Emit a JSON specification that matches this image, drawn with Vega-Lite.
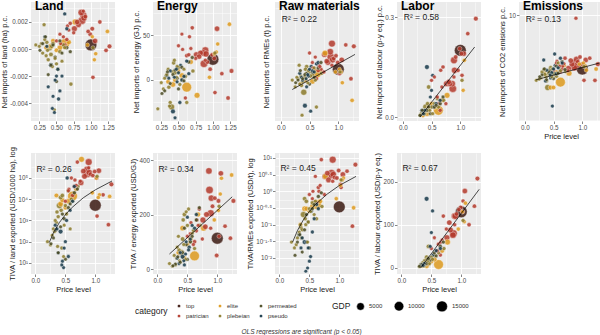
{
"$schema":"https://vega.github.io/schema/vega-lite/v6.json",
"padding":{"left":0,"top":0,"right":0,"bottom":0},
"background":"white",
"title":{"text":"OLS regressions are significant (p < 0.05)","orient":"bottom","anchor":"middle","frame":"bounds","fontSize":6.5,"fontStyle":"italic","fontWeight":"normal","color":"#333333","offset":10,"dx":0},
"config":{
 "font":"Liberation Sans",
 "view":{"fill":"#ebebeb","stroke":null},
 "axis":{"domain":false,"tickColor":"#333333","tickSize":2.5,"tickWidth":0.6,"labelFontSize":6.3,"labelColor":"#4d4d4d","labelPadding":1,"labelOverlap":false,"labelBound":false,"titleFontSize":7.5,"titleFontWeight":"normal","titleColor":"#1a1a1a","titlePadding":1.5,"gridColor":"#ffffff","gridWidth":0.8},
 "title":{"anchor":"start","frame":"group","fontSize":12,"fontWeight":"bold","color":"#000000","offset":-11,"dx":4},
 "legend":{"labelFontSize":6,"titleFontSize":8.5,"titleFontWeight":"normal","titleColor":"#1a1a1a","labelColor":"#333333","symbolStrokeWidth":0,"symbolOpacity":1},
 "circle":{"opacity":0.85,"stroke":"#ffffff","strokeWidth":0.4},
 "line":{"color":"#000000","strokeWidth":0.7},
 "text":{"fontSize":8.5,"align":"left","baseline":"middle","color":"#1a1a1a","dx":1}
},
"datasets":{
"d":[
{"c":"top","p":1.0,"g":19500,"L":0.0003,"E":23,"R":5,"B":0.2,"M":1.0,"TL":5200,"TE":113,"TR":0.34,"TB":130},
{"c":"patrician","p":1.27,"g":700,"L":0.0002,"E":10,"R":22,"B":0.295,"M":1.8,"TL":50000,"TE":250,"TR":6.3,"TB":207},
{"c":"patrician","p":1.22,"g":400,"L":-0.0001,"E":-20,"R":-2,"B":null,"M":-0.9,"TL":630,"TE":113,"TR":0.09,"TB":143},
{"c":"patrician","p":1.13,"g":350,"L":0.002,"E":7,"R":23,"B":0.25,"M":2.8,"TL":16000,"TE":157,"TR":4.0,"TB":100},
{"c":"patrician","p":1.06,"g":1300,"L":0.0006,"E":57,"R":12,"B":0.19,"M":2.5,"TL":220000,"TE":351,"TR":3.2,"TB":178},
{"c":"patrician","p":1.03,"g":300,"L":-0.0021,"E":-14,"R":2,"B":0.125,"M":-0.9,"TL":1600,"TE":120,"TR":1.3,"TB":155},
{"c":"patrician","p":0.99,"g":500,"L":0.0011,"E":28,"R":10,"B":0.205,"M":1.8,"TL":200000,"TE":50,"TR":4.2,"TB":140},
{"c":"patrician","p":0.96,"g":400,"L":0.0013,"E":12,"R":15,"B":0.14,"M":3.0,"TL":130000,"TE":260,"TR":2.5,"TB":135},
{"c":"patrician","p":0.89,"g":3600,"L":0.0025,"E":33,"R":24,"B":0.17,"M":1.5,"TL":560000,"TE":205,"TR":8.9,"TB":120},
{"c":"patrician","p":0.87,"g":4800,"L":0.0021,"E":18,"R":14,"B":0.085,"M":2.0,"TL":160000,"TE":290,"TR":3.5,"TB":80},
{"c":"patrician","p":0.86,"g":2800,"L":0.0027,"E":30,"R":18,"B":0.1,"M":1.2,"TL":250000,"TE":360,"TR":3.0,"TB":76},
{"c":"patrician","p":0.9,"g":2500,"L":0.0023,"E":29,"R":12,"B":0.14,"M":2.6,"TL":180000,"TE":260,"TR":3.2,"TB":120},
{"c":"patrician","p":0.89,"g":200,"L":0.0028,"E":22,"R":8,"B":0.12,"M":9.5,"TL":300000,"TE":150,"TR":2.0,"TB":100},
{"c":"patrician","p":0.82,"g":1600,"L":0.0018,"E":30,"R":10,"B":0.1,"M":1.8,"TL":120000,"TE":200,"TR":2.2,"TB":88},
{"c":"patrician","p":0.76,"g":1900,"L":0.0015,"E":28,"R":16,"B":0.1,"M":1.1,"TL":60000,"TE":180,"TR":2.8,"TB":70},
{"c":"patrician","p":0.7,"g":300,"L":0.0019,"E":58,"R":5,"B":0.15,"M":2.8,"TL":560000,"TE":220,"TR":8.9,"TB":120},
{"c":"patrician","p":0.66,"g":200,"L":0.0017,"E":48,"R":8,"B":0.14,"M":1.5,"TL":80000,"TE":180,"TR":1.0,"TB":60},
{"c":"patrician","p":0.6,"g":150,"L":0.0009,"E":-20,"R":14,"B":0.06,"M":1.5,"TL":100000,"TE":90,"TR":2.8,"TB":40},
{"c":"patrician","p":0.55,"g":100,"L":0.0011,"E":51,"R":10,"B":0.12,"M":2.0,"TL":25000,"TE":130,"TR":0.6,"TB":70},
{"c":"patrician","p":0.5,"g":150,"L":0.0006,"E":38,"R":17,"B":0.11,"M":0.8,"TL":8000,"TE":120,"TR":0.8,"TB":45},
{"c":"patrician","p":0.56,"g":120,"L":0.0004,"E":34,"R":6,"B":null,"M":2.3,"TL":30000,"TE":170,"TR":1.0,"TB":null},
{"c":"patrician","p":0.65,"g":250,"L":0.0007,"E":28,"R":4,"B":0.02,"M":1.0,"TL":40000,"TE":140,"TR":1.3,"TB":30},
{"c":"patrician","p":0.75,"g":180,"L":0.0012,"E":24,"R":3,"B":0.04,"M":0.7,"TL":70000,"TE":110,"TR":0.8,"TB":90},
{"c":"patrician","p":1.02,"g":600,"L":0.0015,"E":24,"R":2,"B":0.19,"M":1.6,"TL":100000,"TE":250,"TR":1.6,"TB":130},
{"c":"patrician","p":0.62,"g":350,"L":0.0003,"E":27,"R":-2,"B":0.04,"M":0.5,"TL":15000,"TE":100,"TR":0.45,"TB":55},
{"c":"patrician","p":0.8,"g":1300,"L":0.002,"E":26,"R":11,"B":0.105,"M":2.4,"TL":210000,"TE":155,"TR":3.5,"TB":105},
{"c":"patrician","p":0.92,"g":500,"L":0.0024,"E":20,"R":13,"B":0.18,"M":2.2,"TL":150000,"TE":230,"TR":2.6,"TB":125},
{"c":"patrician","p":0.68,"g":130,"L":0.0014,"E":35,"R":7,"B":0.09,"M":1.9,"TL":45000,"TE":160,"TR":1.5,"TB":65},
{"c":"elite","p":1.24,"g":400,"L":0.0013,"E":62,"R":-18,"B":null,"M":1.0,"TL":13500,"TE":345,"TR":0.32,"TB":null},
{"c":"elite","p":1.07,"g":300,"L":-0.00035,"E":40,"R":-5,"B":0.17,"M":0.8,"TL":16000,"TE":333,"TR":2.5,"TB":150},
{"c":"elite","p":1.05,"g":250,"L":-0.0008,"E":31,"R":3,"B":0.08,"M":1.5,"TL":12000,"TE":275,"TR":2.2,"TB":107},
{"c":"elite","p":1.02,"g":200,"L":0.0009,"E":29,"R":5,"B":null,"M":2.0,"TL":100000,"TE":215,"TR":1.5,"TB":130},
{"c":"elite","p":0.77,"g":1800,"L":0.002,"E":-17,"R":17,"B":0.065,"M":0.3,"TL":760000,"TE":150,"TR":2.8,"TB":60},
{"c":"elite","p":0.62,"g":11000,"L":0.0004,"E":-8,"R":2,"B":0.02,"M":-1.2,"TL":14000,"TE":48,"TR":0.4,"TB":8},
{"c":"elite","p":0.42,"g":1300,"L":0.0002,"E":-5,"R":-3,"B":0.01,"M":0.2,"TL":6000,"TE":150,"TR":0.3,"TB":5},
{"c":"elite","p":0.55,"g":1200,"L":0.0001,"E":5,"R":-4,"B":0.03,"M":0.4,"TL":8000,"TE":110,"TR":0.35,"TB":20},
{"c":"elite","p":0.5,"g":500,"L":-0.0001,"E":10,"R":0,"B":0.04,"M":-2.1,"TL":4000,"TE":90,"TR":0.25,"TB":15},
{"c":"elite","p":0.35,"g":600,"L":0.0001,"E":-2,"R":-6,"B":0.005,"M":0.6,"TL":15000,"TE":60,"TR":0.1,"TB":5},
{"c":"elite","p":0.68,"g":800,"L":0.0005,"E":20,"R":4,"B":0.05,"M":1.6,"TL":30000,"TE":200,"TR":0.5,"TB":40},
{"c":"elite","p":0.95,"g":300,"L":0.0003,"E":3,"R":3,"B":null,"M":1.8,"TL":20000,"TE":180,"TR":0.6,"TB":90},
{"c":"elite","p":0.45,"g":700,"L":0.0006,"E":0,"R":1,"B":0.03,"M":-2.1,"TL":9000,"TE":40,"TR":0.3,"TB":10},
{"c":"plebeian","p":0.4,"g":2200,"L":0.0001,"E":-30,"R":-12,"B":0.03,"M":-2.1,"TL":5000,"TE":60,"TR":0.2,"TB":15},
{"c":"plebeian","p":0.32,"g":150,"L":0.0018,"E":5,"R":8,"B":0.01,"M":0.3,"TL":300,"TE":40,"TR":0.05,"TB":8},
{"c":"plebeian","p":0.2,"g":80,"L":0.0003,"E":-32,"R":-3,"B":null,"M":-0.9,"TL":100,"TE":20,"TR":0.03,"TB":null},
{"c":"plebeian","p":0.71,"g":250,"L":-0.0026,"E":10,"R":2,"B":0.05,"M":0.6,"TL":40000,"TE":160,"TR":0.35,"TB":45},
{"c":"plebeian","p":0.47,"g":60,"L":-0.0045,"E":3,"R":-5,"B":0.02,"M":-0.3,"TL":20,"TE":35,"TR":0.03,"TB":10},
{"c":"plebeian","p":0.35,"g":100,"L":-0.0005,"E":12,"R":0,"B":0.02,"M":0.1,"TL":800,"TE":120,"TR":0.1,"TB":12},
{"c":"plebeian","p":0.38,"g":200,"L":-0.0008,"E":-25,"R":-4,"B":0.01,"M":-1.0,"TL":1500,"TE":25,"TR":0.07,"TB":5},
{"c":"plebeian","p":0.43,"g":300,"L":0.0002,"E":19,"R":5,"B":0.04,"M":0.8,"TL":3000,"TE":180,"TR":0.15,"TB":20},
{"c":"plebeian","p":0.3,"g":120,"L":-0.0003,"E":2,"R":-2,"B":0.005,"M":0.5,"TL":400,"TE":15,"TR":0.04,"TB":3},
{"c":"plebeian","p":0.28,"g":90,"L":0.0004,"E":-10,"R":-1,"B":null,"M":-0.5,"TL":200,"TE":50,"TR":0.025,"TB":null},
{"c":"plebeian","p":0.45,"g":400,"L":0.0004,"E":8,"R":7,"B":0.09,"M":1.2,"TL":15000,"TE":200,"TR":0.5,"TB":50},
{"c":"plebeian","p":0.5,"g":180,"L":-0.0011,"E":14,"R":3,"B":0.03,"M":0.4,"TL":5000,"TE":160,"TR":0.3,"TB":25},
{"c":"plebeian","p":0.55,"g":350,"L":-0.0002,"E":0,"R":1,"B":0.04,"M":-0.2,"TL":25000,"TE":100,"TR":0.45,"TB":30},
{"c":"plebeian","p":0.33,"g":70,"L":0.0007,"E":6,"R":-6,"B":null,"M":0.9,"TL":1000,"TE":80,"TR":0.06,"TB":null},
{"c":"plebeian","p":0.6,"g":220,"L":0.0003,"E":4,"R":-3,"B":0.055,"M":1.3,"TL":10000,"TE":140,"TR":0.5,"TB":40},
{"c":"plebeian","p":0.25,"g":50,"L":0.0002,"E":-3,"R":-8,"B":null,"M":-0.7,"TL":70,"TE":10,"TR":0.02,"TB":null},
{"c":"plebeian","p":0.52,"g":140,"L":-0.0015,"E":-5,"R":0,"B":0.01,"M":0.2,"TL":2000,"TE":220,"TR":0.25,"TB":20},
{"c":"plebeian","p":0.37,"g":110,"L":-0.0001,"E":-29,"R":-29,"B":0.02,"M":-0.4,"TL":60,"TE":30,"TR":0.04,"TB":5},
{"c":"plebeian","p":0.62,"g":160,"L":0.0001,"E":-25,"R":-23,"B":0.03,"M":0.7,"TL":8000,"TE":75,"TR":0.15,"TB":35},
{"c":"plebeian","p":0.42,"g":500,"L":-0.0004,"E":9,"R":-1,"B":0.02,"M":0.3,"TL":12000,"TE":110,"TR":0.6,"TB":25},
{"c":"plebeian","p":0.48,"g":90,"L":-0.0007,"E":15,"R":4,"B":null,"M":1.0,"TL":600,"TE":210,"TR":0.12,"TB":null},
{"c":"plebeian","p":1.03,"g":200,"L":0.0001,"E":30,"R":3,"B":0.11,"M":1.4,"TL":120000,"TE":230,"TR":2.2,"TB":110},
{"c":"plebeian","p":0.36,"g":250,"L":0.0005,"E":-8,"R":-7,"B":0.015,"M":-0.1,"TL":2500,"TE":70,"TR":0.08,"TB":10},
{"c":"plebeian","p":0.58,"g":80,"L":-0.0009,"E":12,"R":6,"B":null,"M":2.0,"TL":400,"TE":130,"TR":0.2,"TB":null},
{"c":"plebeian","p":0.44,"g":130,"L":-0.0013,"E":22,"R":2,"B":0.02,"M":0.5,"TL":50,"TE":90,"TR":0.1,"TB":15},
{"c":"permeated","p":0.3,"g":60,"L":0.0004,"E":-12,"R":-3,"B":0.005,"M":0.0,"TL":150,"TE":18,"TR":0.03,"TB":4},
{"c":"permeated","p":0.42,"g":90,"L":-0.0012,"E":6,"R":1,"B":0.02,"M":0.5,"TL":500,"TE":60,"TR":0.07,"TB":10},
{"c":"permeated","p":0.55,"g":120,"L":0.0006,"E":14,"R":3,"B":0.03,"M":1.5,"TL":4000,"TE":100,"TR":0.3,"TB":35},
{"c":"permeated","p":0.38,"g":40,"L":-0.0019,"E":-4,"R":-2,"B":null,"M":-0.8,"TL":30,"TE":25,"TR":0.015,"TB":null},
{"c":"permeated","p":0.65,"g":200,"L":0.0001,"E":20,"R":6,"B":0.04,"M":2.2,"TL":20000,"TE":180,"TR":0.7,"TB":50},
{"c":"permeated","p":0.26,"g":50,"L":-0.0001,"E":-15,"R":-5,"B":null,"M":-0.3,"TL":80,"TE":12,"TR":0.012,"TB":null},
{"c":"permeated","p":0.48,"g":150,"L":-0.0006,"E":2,"R":0,"B":0.01,"M":0.2,"TL":1200,"TE":90,"TR":0.12,"TB":18},
{"c":"permeated","p":0.34,"g":70,"L":0.0009,"E":9,"R":4,"B":0.02,"M":1.0,"TL":350,"TE":45,"TR":0.05,"TB":8},
{"c":"permeated","p":0.7,"g":110,"L":-0.0002,"E":25,"R":10,"B":0.06,"M":0.9,"TL":30000,"TE":225,"TR":0.9,"TB":60},
{"c":"permeated","p":0.5,"g":80,"L":-0.0024,"E":-10,"R":-6,"B":null,"M":-0.6,"TL":15,"TE":35,"TR":0.02,"TB":null},
{"c":"permeated","p":0.45,"g":100,"L":0.0003,"E":11,"R":2,"B":0.03,"M":0.7,"TL":2000,"TE":150,"TR":0.2,"TB":22},
{"c":"permeated","p":0.58,"g":60,"L":-0.0003,"E":-1,"R":-1,"B":0.035,"M":0.3,"TL":6000,"TE":120,"TR":0.4,"TB":28},
{"c":"pseudo","p":0.62,"g":150,"L":0.0026,"E":21,"R":9,"B":null,"M":2.8,"TL":8000,"TE":150,"TR":0.4,"TB":null},
{"c":"pseudo","p":0.33,"g":100,"L":0.0009,"E":5,"R":2,"B":0.02,"M":2.5,"TL":600,"TE":40,"TR":0.05,"TB":8},
{"c":"pseudo","p":0.42,"g":700,"L":-0.0012,"E":-35,"R":-22,"B":0.15,"M":0.5,"TL":300,"TE":45,"TR":0.03,"TB":160},
{"c":"pseudo","p":0.52,"g":120,"L":-0.0015,"E":-25,"R":-26,"B":0.125,"M":3.5,"TL":1000,"TE":70,"TR":0.011,"TB":132},
{"c":"pseudo","p":0.5,"g":90,"L":-0.002,"E":8,"R":5,"B":0.08,"M":1.0,"TL":100,"TE":190,"TR":0.008,"TB":82},
{"c":"pseudo","p":0.48,"g":60,"L":-0.0023,"E":-2,"R":0,"B":0.06,"M":-5.2,"TL":50,"TE":100,"TR":0.02,"TB":50},
{"c":"pseudo","p":0.38,"g":80,"L":-0.0028,"E":10,"R":-3,"B":0.02,"M":0.8,"TL":30,"TE":60,"TR":0.04,"TB":10},
{"c":"pseudo","p":0.55,"g":110,"L":-0.0031,"E":0,"R":4,"B":null,"M":0.2,"TL":20,"TE":110,"TR":0.06,"TB":null},
{"c":"pseudo","p":0.45,"g":70,"L":-0.0035,"E":-42,"R":-8,"B":null,"M":-0.5,"TL":12,"TE":15,"TR":0.03,"TB":null},
{"c":"pseudo","p":0.53,"g":200,"L":-0.0037,"E":16,"R":7,"B":0.03,"M":1.6,"TL":100000,"TE":80,"TR":0.25,"TB":30},
{"c":"pseudo","p":0.44,"g":50,"L":-0.0044,"E":3,"R":-2,"B":null,"M":0.0,"TL":8,"TE":30,"TR":0.004,"TB":null},
{"c":"pseudo","p":0.47,"g":60,"L":-0.0047,"E":12,"R":1,"B":null,"M":0.4,"TL":6,"TE":55,"TR":0.005,"TB":null},
{"c":"pseudo","p":0.58,"g":90,"L":-0.002,"E":4,"R":3,"B":0.04,"M":1.2,"TL":3000,"TE":160,"TR":0.15,"TB":40},
{"c":"pseudo","p":0.36,"g":70,"L":0.0002,"E":2,"R":-1,"B":0.01,"M":-1.0,"TL":400,"TE":20,"TR":0.02,"TB":6},
{"c":"pseudo","p":0.65,"g":130,"L":0.0015,"E":7,"R":10,"B":0.05,"M":2.0,"TL":40000,"TE":200,"TR":0.3,"TB":45}
],
"fit":[
{"k":"raw","p":0.2,"v":-10},{"k":"raw","p":1.29,"v":16},
{"k":"labor","p":0.3,"v":0.0},{"k":"labor","p":1.25,"v":0.21},
{"k":"emis","p":0.2,"v":-0.8},{"k":"emis","p":1.3,"v":2.0},
{"k":"tland","p":0.23,"v":90},{"k":"tland","p":0.3,"v":260},{"k":"tland","p":0.4,"v":800},{"k":"tland","p":0.5,"v":1850},{"k":"tland","p":0.6,"v":3800},{"k":"tland","p":0.8,"v":11700},{"k":"tland","p":1.0,"v":27500},{"k":"tland","p":1.28,"v":72000},
{"k":"tenergy","p":0.2,"v":55},{"k":"tenergy","p":1.25,"v":265},
{"k":"traw","p":0.22,"v":0.03},{"k":"traw","p":0.3,"v":0.066},{"k":"traw","p":0.4,"v":0.14},{"k":"traw","p":0.5,"v":0.25},{"k":"traw","p":0.6,"v":0.4},{"k":"traw","p":0.8,"v":0.83},{"k":"traw","p":1.0,"v":1.49},{"k":"traw","p":1.28,"v":2.8},
{"k":"tlabor","p":0.32,"v":0},{"k":"tlabor","p":1.3,"v":182}
],
"r2":[
{"k":"raw","p":0,"v":42,"t":"R² = 0.22"},
{"k":"labor","p":0,"v":0.3,"t":"R² = 0.58"},
{"k":"emis","p":0,"v":9.3,"t":"R² = 0.13"},
{"k":"tland","p":0,"v":260000,"t":"R² = 0.26"},
{"k":"tenergy","p":0,"v":367,"t":"R² = 0.34"},
{"k":"traw","p":0,"v":4.9,"t":"R² = 0.45"},
{"k":"tlabor","p":0,"v":231,"t":"R² = 0.67"}
]
},
"spacing":6,
"vconcat":[
{"hconcat":[
 {"width":84,"height":119,"title":{"text":"Land"},
  "encoding":{"x":{"field":"p","type":"quantitative","scale":{"domain":[0.13,1.35],"nice":false,"zero":false},"axis":{"values":[0.25,0.375,0.5,0.625,0.75,0.875,1,1.125,1.25],"labelExpr":"abs(datum.value*4-round(datum.value*4))<0.01 ? format(datum.value,'.2f') : ''","gridWidth":{"condition":{"test":"abs(datum.value*4-round(datum.value*4))<0.01","value":0.9},"value":0.45},"tickOpacity":{"condition":{"test":"abs(datum.value*4-round(datum.value*4))<0.01","value":1},"value":0},"title":null}}},
  "layer":[
   {"data":{"name":"d"},"mark":"circle","encoding":{"y":{"field":"L","type":"quantitative","scale":{"domain":[-0.00533,0.00348],"nice":false,"zero":false},"axis":{"values":[-0.005,-0.004,-0.003,-0.002,-0.001,0,0.001,0.002,0.003],"labelExpr":"abs(datum.value*500-round(datum.value*500))<0.01 ? replace(format(datum.value,'.3f'),'−','-') : ''","gridWidth":{"condition":{"test":"abs(datum.value*500-round(datum.value*500))<0.01","value":0.9},"value":0.45},"tickOpacity":{"condition":{"test":"abs(datum.value*500-round(datum.value*500))<0.01","value":1},"value":0},"title":"Net imports of land (ha) p.c."}},
    "color":{"field":"c","type":"nominal","scale":{"domain":["top","elite","permeated","patrician","plebeian","pseudo"],"range":["#3c1a12","#de9a1e","#4a4a22","#b33a2c","#8b7b2b","#17394a"]},"legend":{"title":"category","orient":"none","legendX":104,"legendY":301,"direction":"horizontal","columns":3,"titleOrient":"left","titleAnchor":"middle","titlePadding":8,"symbolSize":10,"columnPadding":8,"rowPadding":4}},
    "size":{"field":"g","type":"quantitative","scale":{"type":"pow","exponent":0.75,"domain":[0,19500],"range":[12,140]},"legend":{"title":"GDP","orient":"none","legendX":301,"legendY":298,"direction":"horizontal","values":[5000,10000,15000],"format":"d","titleOrient":"left","symbolFillColor":"#000000"}},
    "order":{"field":"g","type":"quantitative","sort":"descending"}}}
  ]},
 {"width":84,"height":119,"title":{"text":"Energy"},
  "encoding":{"x":{"field":"p","type":"quantitative","scale":{"domain":[0.13,1.35],"nice":false,"zero":false},"axis":{"values":[0.25,0.375,0.5,0.625,0.75,0.875,1,1.125,1.25],"labelExpr":"abs(datum.value*4-round(datum.value*4))<0.01 ? format(datum.value,'.2f') : ''","gridWidth":{"condition":{"test":"abs(datum.value*4-round(datum.value*4))<0.01","value":0.9},"value":0.45},"tickOpacity":{"condition":{"test":"abs(datum.value*4-round(datum.value*4))<0.01","value":1},"value":0},"title":null}}},
  "layer":[
   {"data":{"name":"d"},"mark":"circle","encoding":{"y":{"field":"E","type":"quantitative","scale":{"domain":[-45.6,86.7],"nice":false,"zero":false},"axis":{"values":[-25,0,25,50,75],"labelExpr":"abs(datum.value/50-round(datum.value/50))<0.01 ? replace(format(datum.value,'d'),'−','-') : ''","gridWidth":{"condition":{"test":"abs(datum.value/50-round(datum.value/50))<0.01","value":0.9},"value":0.45},"tickOpacity":{"condition":{"test":"abs(datum.value/50-round(datum.value/50))<0.01","value":1},"value":0},"title":"Net imports of energy (GJ) p.c."}},
    "color":{"field":"c","type":"nominal","scale":{"domain":["top","elite","permeated","patrician","plebeian","pseudo"],"range":["#3c1a12","#de9a1e","#4a4a22","#b33a2c","#8b7b2b","#17394a"]}},
    "size":{"field":"g","type":"quantitative","scale":{"type":"pow","exponent":0.75,"domain":[0,19500],"range":[12,140]}},
    "order":{"field":"g","type":"quantitative","sort":"descending"}}}
  ]},
 {"width":84,"height":119,"title":{"text":"Raw materials"},
  "encoding":{"x":{"field":"p","type":"quantitative","scale":{"domain":[-0.1,1.36],"nice":false,"zero":false},"axis":{"values":[0,0.25,0.5,0.75,1,1.25],"labelExpr":"abs(datum.value*2-round(datum.value*2))<0.01 ? format(datum.value,'.1f') : ''","gridWidth":{"condition":{"test":"abs(datum.value*2-round(datum.value*2))<0.01","value":0.9},"value":0.45},"tickOpacity":{"condition":{"test":"abs(datum.value*2-round(datum.value*2))<0.01","value":1},"value":0},"title":null}}},
  "layer":[
   {"data":{"name":"d"},"mark":"circle","encoding":{"y":{"field":"R","type":"quantitative","scale":{"domain":[-33.3,54.8],"nice":false,"zero":false},"axis":{"values":[-30,-20,-10,0,10,20,30,40,50],"labelExpr":"abs(datum.value/20-round(datum.value/20))<0.01 ? replace(format(datum.value,'d'),'−','-') : ''","gridWidth":{"condition":{"test":"abs(datum.value/20-round(datum.value/20))<0.01","value":0.9},"value":0.45},"tickOpacity":{"condition":{"test":"abs(datum.value/20-round(datum.value/20))<0.01","value":1},"value":0},"title":"Net imports of RMEs (t) p.c."}},
    "color":{"field":"c","type":"nominal","scale":{"domain":["top","elite","permeated","patrician","plebeian","pseudo"],"range":["#3c1a12","#de9a1e","#4a4a22","#b33a2c","#8b7b2b","#17394a"]}},
    "size":{"field":"g","type":"quantitative","scale":{"type":"pow","exponent":0.75,"domain":[0,19500],"range":[12,140]}},
    "order":{"field":"g","type":"quantitative","sort":"descending"}}},
   {"data":{"name":"fit"},"transform":[{"filter":"datum.k=='raw'"}],"mark":"line","encoding":{"y":{"field":"v","type":"quantitative","scale":{"domain":[-33.3,54.8],"nice":false,"zero":false}}}},
   {"data":{"name":"r2"},"transform":[{"filter":"datum.k=='raw'"}],"mark":"text","encoding":{"y":{"field":"v","type":"quantitative","scale":{"domain":[-33.3,54.8],"nice":false,"zero":false}},"text":{"field":"t"}}}
  ]},
 {"width":84,"height":119,"title":{"text":"Labor"},
  "encoding":{"x":{"field":"p","type":"quantitative","scale":{"domain":[-0.1,1.36],"nice":false,"zero":false},"axis":{"values":[0,0.25,0.5,0.75,1,1.25],"labelExpr":"abs(datum.value*2-round(datum.value*2))<0.01 ? format(datum.value,'.1f') : ''","gridWidth":{"condition":{"test":"abs(datum.value*2-round(datum.value*2))<0.01","value":0.9},"value":0.45},"tickOpacity":{"condition":{"test":"abs(datum.value*2-round(datum.value*2))<0.01","value":1},"value":0},"title":null}}},
  "layer":[
   {"data":{"name":"d"},"mark":"circle","encoding":{"y":{"field":"B","type":"quantitative","scale":{"domain":[-0.012,0.345],"nice":false,"zero":false},"axis":{"values":[0,0.05,0.1,0.15,0.2,0.25,0.3],"labelExpr":"abs(datum.value*10-round(datum.value*10))<0.01 ? format(datum.value,'.1f') : ''","gridWidth":{"condition":{"test":"abs(datum.value*10-round(datum.value*10))<0.01","value":0.9},"value":0.45},"tickOpacity":{"condition":{"test":"abs(datum.value*10-round(datum.value*10))<0.01","value":1},"value":0},"title":"Net imports of labour (p-y eq.) p.c."}},
    "color":{"field":"c","type":"nominal","scale":{"domain":["top","elite","permeated","patrician","plebeian","pseudo"],"range":["#3c1a12","#de9a1e","#4a4a22","#b33a2c","#8b7b2b","#17394a"]}},
    "size":{"field":"g","type":"quantitative","scale":{"type":"pow","exponent":0.75,"domain":[0,19500],"range":[12,140]}},
    "order":{"field":"g","type":"quantitative","sort":"descending"}}},
   {"data":{"name":"fit"},"transform":[{"filter":"datum.k=='labor'"}],"mark":"line","encoding":{"y":{"field":"v","type":"quantitative","scale":{"domain":[-0.012,0.345],"nice":false,"zero":false}}}},
   {"data":{"name":"r2"},"transform":[{"filter":"datum.k=='labor'"}],"mark":"text","encoding":{"y":{"field":"v","type":"quantitative","scale":{"domain":[-0.012,0.345],"nice":false,"zero":false}},"text":{"field":"t"}}}
  ]},
 {"width":84,"height":119,"title":{"text":"Emissions"},
  "encoding":{"x":{"field":"p","type":"quantitative","scale":{"domain":[-0.1,1.36],"nice":false,"zero":false},"axis":{"values":[0,0.25,0.5,0.75,1,1.25],"labelExpr":"abs(datum.value*2-round(datum.value*2))<0.01 ? format(datum.value,'.1f') : ''","gridWidth":{"condition":{"test":"abs(datum.value*2-round(datum.value*2))<0.01","value":0.9},"value":0.45},"tickOpacity":{"condition":{"test":"abs(datum.value*2-round(datum.value*2))<0.01","value":1},"value":0},"title":"Price level"}}},
  "layer":[
   {"data":{"name":"d"},"mark":"circle","encoding":{"y":{"field":"M","type":"quantitative","scale":{"domain":[-7.7,12.2],"nice":false,"zero":false},"axis":{"values":[-7.5,-5,-2.5,0,2.5,5,7.5,10],"labelExpr":"abs(datum.value/5-round(datum.value/5))<0.01 ? replace(format(datum.value,'d'),'−','-') : ''","gridWidth":{"condition":{"test":"abs(datum.value/5-round(datum.value/5))<0.01","value":0.9},"value":0.45},"tickOpacity":{"condition":{"test":"abs(datum.value/5-round(datum.value/5))<0.01","value":1},"value":0},"title":"Net imports of CO2 emisions p.c."}},
    "color":{"field":"c","type":"nominal","scale":{"domain":["top","elite","permeated","patrician","plebeian","pseudo"],"range":["#3c1a12","#de9a1e","#4a4a22","#b33a2c","#8b7b2b","#17394a"]}},
    "size":{"field":"g","type":"quantitative","scale":{"type":"pow","exponent":0.75,"domain":[0,19500],"range":[12,140]}},
    "order":{"field":"g","type":"quantitative","sort":"descending"}}},
   {"data":{"name":"fit"},"transform":[{"filter":"datum.k=='emis'"}],"mark":"line","encoding":{"y":{"field":"v","type":"quantitative","scale":{"domain":[-7.7,12.2],"nice":false,"zero":false}}}},
   {"data":{"name":"r2"},"transform":[{"filter":"datum.k=='emis'"}],"mark":"text","encoding":{"y":{"field":"v","type":"quantitative","scale":{"domain":[-7.7,12.2],"nice":false,"zero":false}},"text":{"field":"t"}}}
  ]}
],"spacing":38,"bounds":"flush"},
{"hconcat":[
 {"width":84,"height":121,
  "encoding":{"x":{"field":"p","type":"quantitative","scale":{"domain":[-0.075,1.33],"nice":false,"zero":false},"axis":{"values":[0,0.25,0.5,0.75,1,1.25],"labelExpr":"abs(datum.value*2-round(datum.value*2))<0.01 ? format(datum.value,'.1f') : ''","gridWidth":{"condition":{"test":"abs(datum.value*2-round(datum.value*2))<0.01","value":0.9},"value":0.45},"tickOpacity":{"condition":{"test":"abs(datum.value*2-round(datum.value*2))<0.01","value":1},"value":0},"title":"Price level"}}},
  "layer":[
   {"data":{"name":"d"},"mark":"circle","encoding":{"y":{"field":"TL","type":"quantitative","scale":{"type":"log","domain":[3.0,1500000],"nice":false},"axis":{"values":[3.1623,10,31.623,100,316.23,1000,3162.3,10000,31623,100000,316228],"labelExpr":"abs(log(datum.value)/LN10-round(log(datum.value)/LN10))<0.01 ? '10' + ['⁰','¹','²','³','⁴','⁵','⁶'][round(log(datum.value)/LN10)] : ''","gridWidth":{"condition":{"test":"abs(log(datum.value)/LN10-round(log(datum.value)/LN10))<0.01","value":0.9},"value":0.45},"tickOpacity":{"condition":{"test":"abs(log(datum.value)/LN10-round(log(datum.value)/LN10))<0.01","value":1},"value":0},"title":"TIVA / land exported (USD/1000 ha), log"}},
    "color":{"field":"c","type":"nominal","scale":{"domain":["top","elite","permeated","patrician","plebeian","pseudo"],"range":["#3c1a12","#de9a1e","#4a4a22","#b33a2c","#8b7b2b","#17394a"]}},
    "size":{"field":"g","type":"quantitative","scale":{"type":"pow","exponent":0.75,"domain":[0,19500],"range":[12,140]}},
    "order":{"field":"g","type":"quantitative","sort":"descending"}}},
   {"data":{"name":"fit"},"transform":[{"filter":"datum.k=='tland'"}],"mark":"line","encoding":{"y":{"field":"v","type":"quantitative","scale":{"type":"log","domain":[3.0,1500000],"nice":false}}}},
   {"data":{"name":"r2"},"transform":[{"filter":"datum.k=='tland'"}],"mark":"text","encoding":{"y":{"field":"v","type":"quantitative","scale":{"type":"log","domain":[3.0,1500000],"nice":false}},"text":{"field":"t"}}}
  ]},
 {"width":84,"height":121,
  "encoding":{"x":{"field":"p","type":"quantitative","scale":{"domain":[-0.075,1.33],"nice":false,"zero":false},"axis":{"values":[0,0.25,0.5,0.75,1,1.25],"labelExpr":"abs(datum.value*2-round(datum.value*2))<0.01 ? format(datum.value,'.1f') : ''","gridWidth":{"condition":{"test":"abs(datum.value*2-round(datum.value*2))<0.01","value":0.9},"value":0.45},"tickOpacity":{"condition":{"test":"abs(datum.value*2-round(datum.value*2))<0.01","value":1},"value":0},"title":"Price level"}}},
  "layer":[
   {"data":{"name":"d"},"mark":"circle","encoding":{"y":{"field":"TE","type":"quantitative","scale":{"domain":[-18.3,425.7],"nice":false,"zero":false},"axis":{"values":[0,50,100,150,200,250,300,350,400],"labelExpr":"abs(datum.value/100-round(datum.value/100))<0.01 ? format(datum.value,'d') : ''","gridWidth":{"condition":{"test":"abs(datum.value/100-round(datum.value/100))<0.01","value":0.9},"value":0.45},"tickOpacity":{"condition":{"test":"abs(datum.value/100-round(datum.value/100))<0.01","value":1},"value":0},"title":"TIVA / energy exported (USD/GJ)"}},
    "color":{"field":"c","type":"nominal","scale":{"domain":["top","elite","permeated","patrician","plebeian","pseudo"],"range":["#3c1a12","#de9a1e","#4a4a22","#b33a2c","#8b7b2b","#17394a"]}},
    "size":{"field":"g","type":"quantitative","scale":{"type":"pow","exponent":0.75,"domain":[0,19500],"range":[12,140]}},
    "order":{"field":"g","type":"quantitative","sort":"descending"}}},
   {"data":{"name":"fit"},"transform":[{"filter":"datum.k=='tenergy'"}],"mark":"line","encoding":{"y":{"field":"v","type":"quantitative","scale":{"domain":[-18.3,425.7],"nice":false,"zero":false}}}},
   {"data":{"name":"r2"},"transform":[{"filter":"datum.k=='tenergy'"}],"mark":"text","encoding":{"y":{"field":"v","type":"quantitative","scale":{"domain":[-18.3,425.7],"nice":false,"zero":false}},"text":{"field":"t"}}}
  ]},
 {"width":84,"height":121,
  "encoding":{"x":{"field":"p","type":"quantitative","scale":{"domain":[-0.075,1.33],"nice":false,"zero":false},"axis":{"values":[0,0.25,0.5,0.75,1,1.25],"labelExpr":"abs(datum.value*2-round(datum.value*2))<0.01 ? format(datum.value,'.1f') : ''","gridWidth":{"condition":{"test":"abs(datum.value*2-round(datum.value*2))<0.01","value":0.9},"value":0.45},"tickOpacity":{"condition":{"test":"abs(datum.value*2-round(datum.value*2))<0.01","value":1},"value":0},"title":"Price level"}}},
  "layer":[
   {"data":{"name":"d"},"mark":"circle","encoding":{"y":{"field":"TR","type":"quantitative","scale":{"type":"log","domain":[0.0033,14.1],"nice":false},"axis":{"values":[0.005623,0.01,0.017783,0.031623,0.056234,0.1,0.177828,0.316228,0.562341,1,1.778279,3.162278,5.623413,10],"labelExpr":"abs(2*log(datum.value)/LN10-round(2*log(datum.value)/LN10))<0.02 ? '10' + ['⁻²','⁻¹·⁵','⁻¹','⁻⁰·⁵','⁰','⁰·⁵','¹'][round(2*log(datum.value)/LN10)+4] : ''","gridWidth":{"condition":{"test":"abs(2*log(datum.value)/LN10-round(2*log(datum.value)/LN10))<0.02","value":0.9},"value":0.45},"tickOpacity":{"condition":{"test":"abs(2*log(datum.value)/LN10-round(2*log(datum.value)/LN10))<0.02","value":1},"value":0},"title":"TIVA/RMEs exported (USD/t), log"}},
    "color":{"field":"c","type":"nominal","scale":{"domain":["top","elite","permeated","patrician","plebeian","pseudo"],"range":["#3c1a12","#de9a1e","#4a4a22","#b33a2c","#8b7b2b","#17394a"]}},
    "size":{"field":"g","type":"quantitative","scale":{"type":"pow","exponent":0.75,"domain":[0,19500],"range":[12,140]}},
    "order":{"field":"g","type":"quantitative","sort":"descending"}}},
   {"data":{"name":"fit"},"transform":[{"filter":"datum.k=='traw'"}],"mark":"line","encoding":{"y":{"field":"v","type":"quantitative","scale":{"type":"log","domain":[0.0033,14.1],"nice":false}}}},
   {"data":{"name":"r2"},"transform":[{"filter":"datum.k=='traw'"}],"mark":"text","encoding":{"y":{"field":"v","type":"quantitative","scale":{"type":"log","domain":[0.0033,14.1],"nice":false}},"text":{"field":"t"}}}
  ]},
 {"width":84,"height":121,
  "encoding":{"x":{"field":"p","type":"quantitative","scale":{"domain":[-0.075,1.33],"nice":false,"zero":false},"axis":{"values":[0,0.25,0.5,0.75,1,1.25],"labelExpr":"abs(datum.value*2-round(datum.value*2))<0.01 ? format(datum.value,'.1f') : ''","gridWidth":{"condition":{"test":"abs(datum.value*2-round(datum.value*2))<0.01","value":0.9},"value":0.45},"tickOpacity":{"condition":{"test":"abs(datum.value*2-round(datum.value*2))<0.01","value":1},"value":0},"title":"Price level"}}},
  "layer":[
   {"data":{"name":"d"},"mark":"circle","encoding":{"y":{"field":"TB","type":"quantitative","scale":{"domain":[-13.9,266],"nice":false,"zero":false},"axis":{"values":[0,25,50,75,100,125,150,175,200,225,250],"labelExpr":"abs(datum.value/50-round(datum.value/50))<0.01 ? format(datum.value,'d') : ''","gridWidth":{"condition":{"test":"abs(datum.value/50-round(datum.value/50))<0.01","value":0.9},"value":0.45},"tickOpacity":{"condition":{"test":"abs(datum.value/50-round(datum.value/50))<0.01","value":1},"value":0},"title":"TIVA / labour exported (USD/p-y eq.)"}},
    "color":{"field":"c","type":"nominal","scale":{"domain":["top","elite","permeated","patrician","plebeian","pseudo"],"range":["#3c1a12","#de9a1e","#4a4a22","#b33a2c","#8b7b2b","#17394a"]}},
    "size":{"field":"g","type":"quantitative","scale":{"type":"pow","exponent":0.75,"domain":[0,19500],"range":[12,140]}},
    "order":{"field":"g","type":"quantitative","sort":"descending"}}},
   {"data":{"name":"fit"},"transform":[{"filter":"datum.k=='tlabor'"}],"mark":"line","encoding":{"y":{"field":"v","type":"quantitative","scale":{"domain":[-13.9,266],"nice":false,"zero":false}}}},
   {"data":{"name":"r2"},"transform":[{"filter":"datum.k=='tlabor'"}],"mark":"text","encoding":{"y":{"field":"v","type":"quantitative","scale":{"domain":[-13.9,266],"nice":false,"zero":false}},"text":{"field":"t"}}}
  ]}
],"spacing":38,"bounds":"flush"}
]
}
